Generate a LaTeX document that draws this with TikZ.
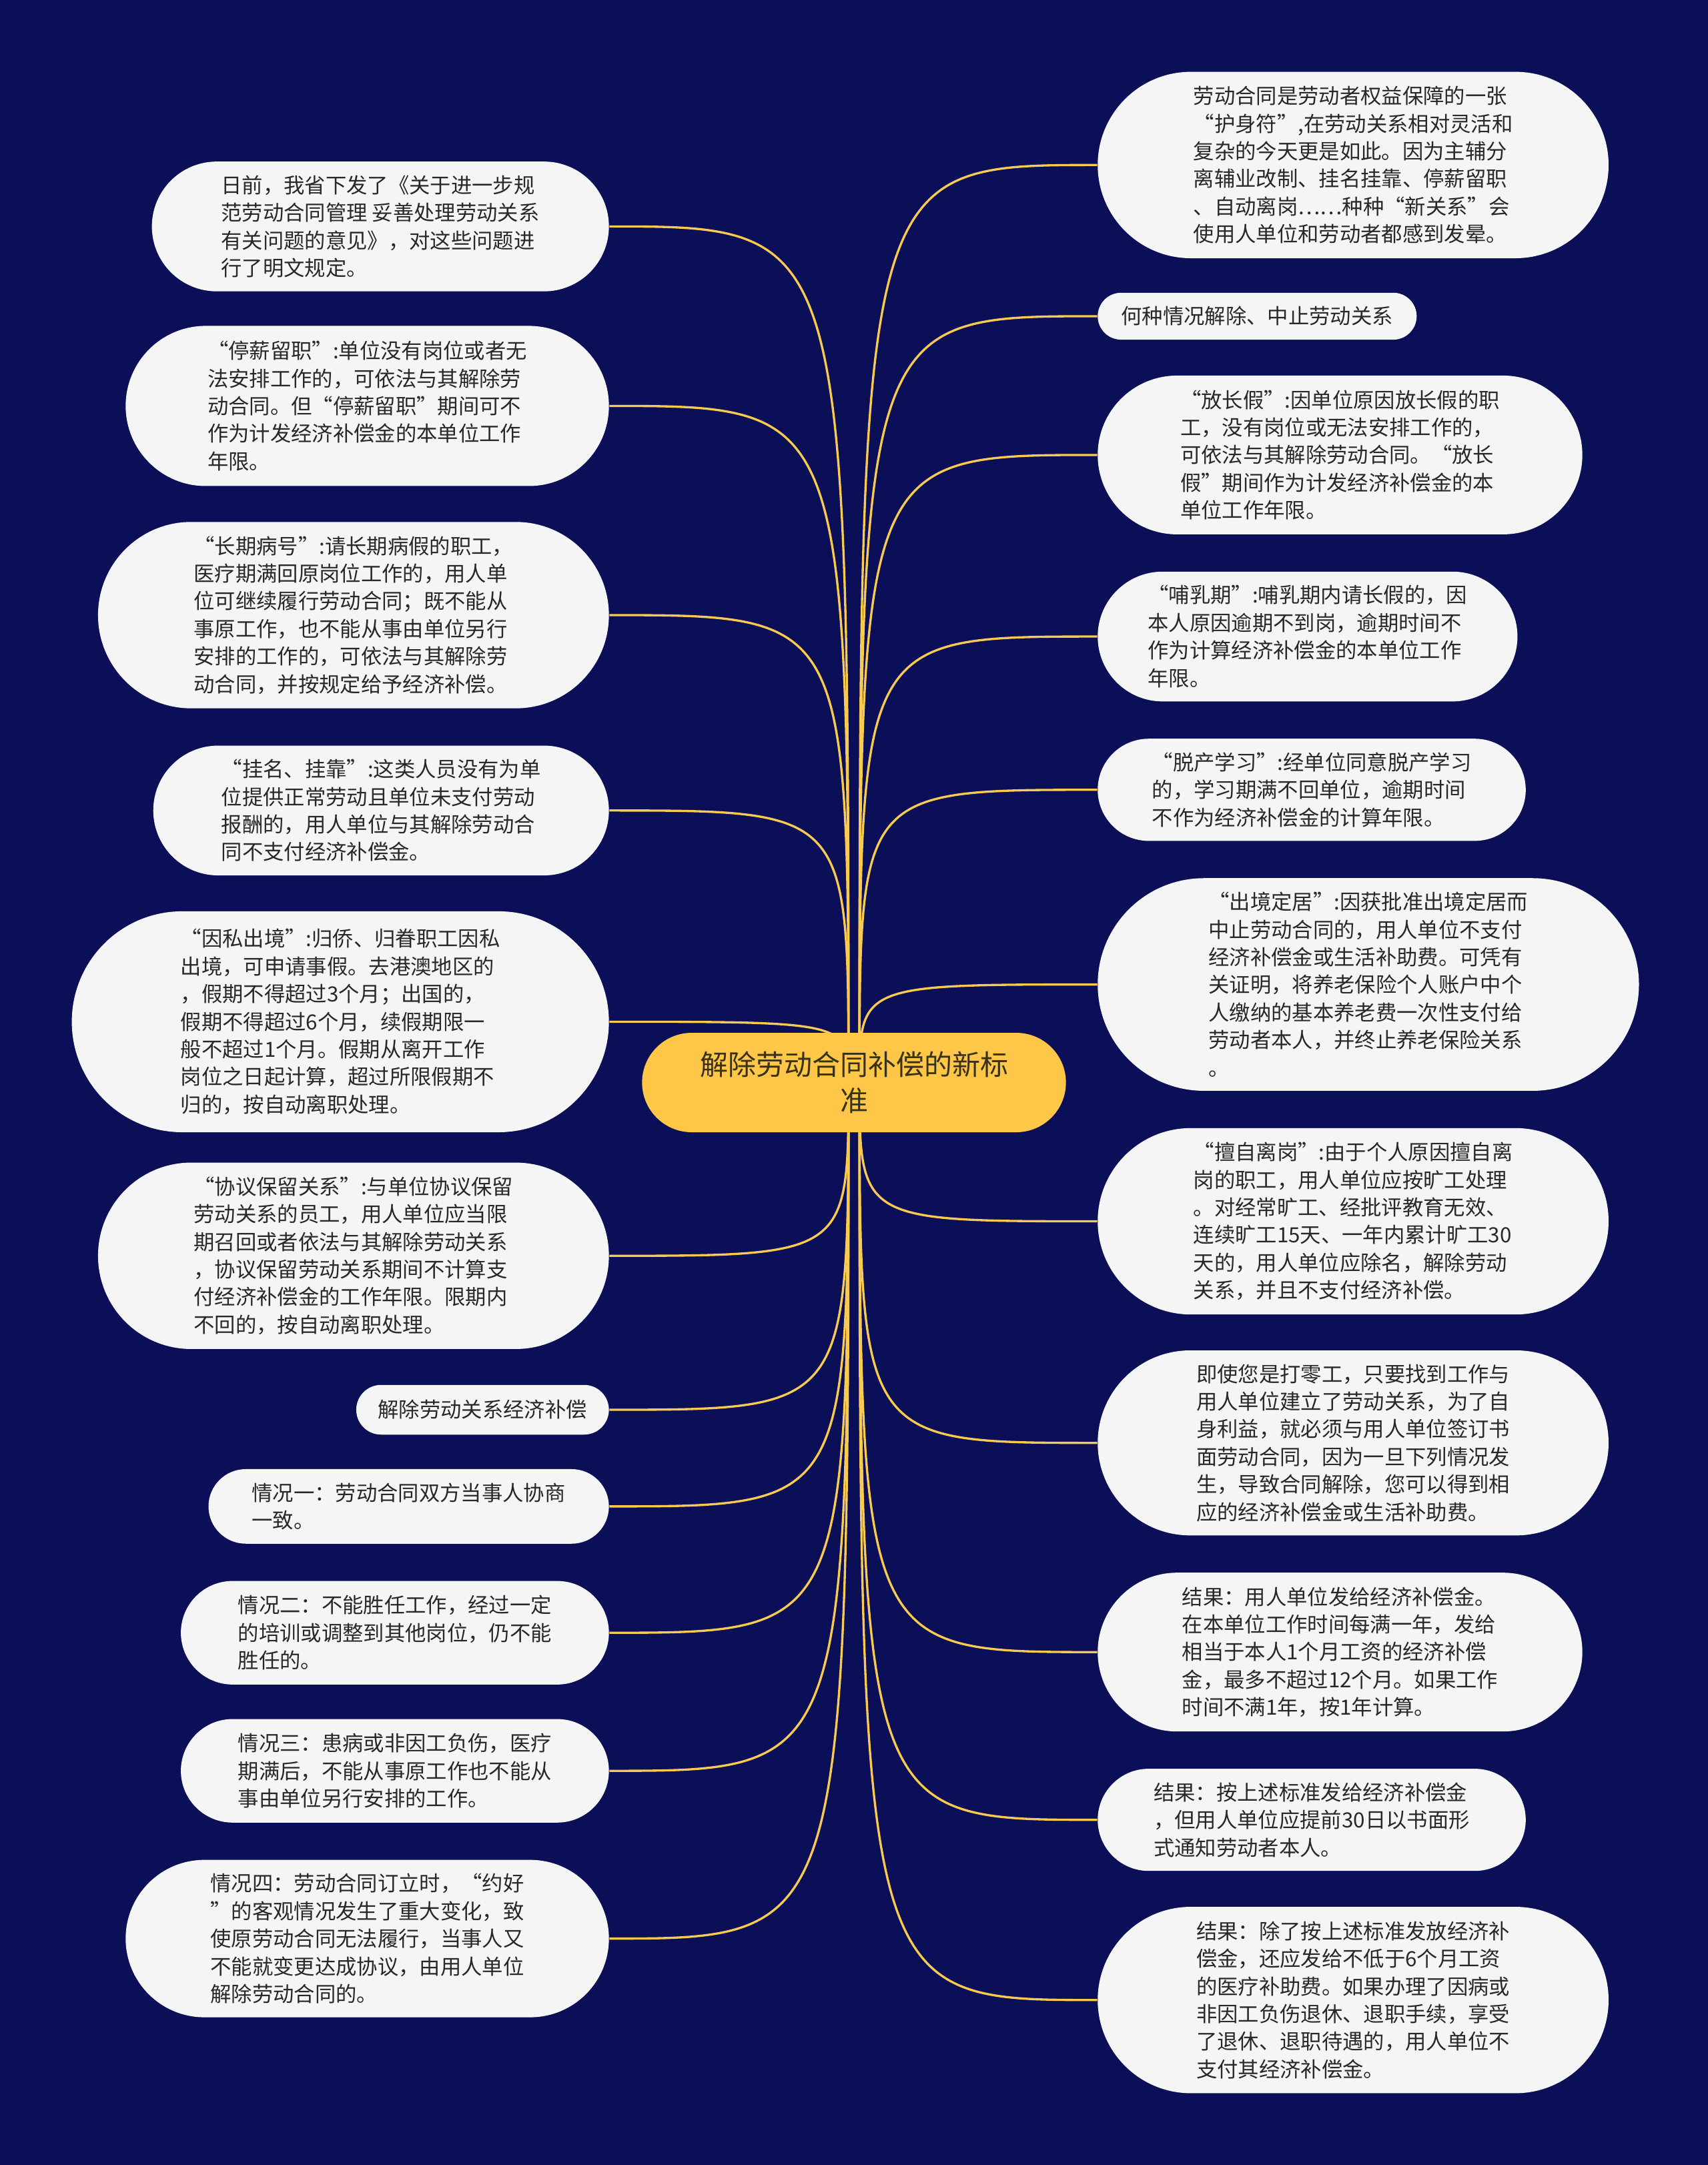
\documentclass[tikz,border=0pt]{standalone}
\usepackage{fontspec}
\setmainfont{Noto Sans CJK SC}
\usetikzlibrary{calc}
\definecolor{bgnavy}{RGB}{11,15,88}
\definecolor{nodefill}{RGB}{245,245,245}
\definecolor{txt}{RGB}{40,40,40}
\definecolor{gold}{RGB}{255,199,71}
\definecolor{linegold}{RGB}{248,202,80}
\definecolor{ctext}{RGB}{55,50,25}
\pgfdeclarelayer{back}
\pgfdeclarelayer{bg}
\pgfsetlayers{back,bg,main}
\begin{document}
\begin{tikzpicture}[x=0.62085pt,y=-0.62085pt,
  box/.style 2 args={draw=none, fill=nodefill, text=txt, align=left, inner sep=0pt,
    minimum width=#1*0.62085pt, minimum height=#2*0.62085pt,
    rounded corners=#2*0.3104pt, font=\fontsize{9.4}{12.42}\selectfont},
  centerbox/.style={draw=none, fill=gold, text=ctext, align=center, inner sep=0pt,
    minimum width=307*0.62085pt, minimum height=72*0.62085pt,
    rounded corners=36*0.62085pt, font=\fontsize{12.6}{16.1}\selectfont},
  conn/.style={draw=linegold, line width=1pt}]
\begin{pgfonlayer}{back}
\fill[bgnavy] (0,0) rectangle (1237,1568);
\end{pgfonlayer}
\useasboundingbox (0,0) rectangle (1237,1568);

\node[centerbox] (c) at (618.5,784) {解除劳动合同补偿的新标\\准};

% left side
\node[box={331}{94}] (L1) at (275.5,164) {日前，我省下发了《关于进一步规\\范劳动合同管理 妥善处理劳动关系\\有关问题的意见》，对这些问题进\\行了明文规定。};
\node[box={350}{116}] (L2) at (266,294) {“停薪留职”:单位没有岗位或者无\\法安排工作的，可依法与其解除劳\\动合同。但“停薪留职”期间可不\\作为计发经济补偿金的本单位工作\\年限。};
\node[box={370}{135}] (L3) at (256,445.5) {“长期病号”:请长期病假的职工，\\医疗期满回原岗位工作的，用人单\\位可继续履行劳动合同；既不能从\\事原工作，也不能从事由单位另行\\安排的工作的，可依法与其解除劳\\动合同，并按规定给予经济补偿。};
\node[box={330}{94}] (L4) at (276,587) {“挂名、挂靠”:这类人员没有为单\\位提供正常劳动且单位未支付劳动\\报酬的，用人单位与其解除劳动合\\同不支付经济补偿金。};
\node[box={389}{160}] (L5) at (246.5,740) {“因私出境”:归侨、归眷职工因私\\出境，可申请事假。去港澳地区的\\，假期不得超过3个月；出国的，\\假期不得超过6个月，续假期限一\\般不超过1个月。假期从离开工作\\岗位之日起计算，超过所限假期不\\归的，按自动离职处理。};
\node[box={370}{135}] (L6) at (256,909.5) {“协议保留关系”:与单位协议保留\\劳动关系的员工，用人单位应当限\\期召回或者依法与其解除劳动关系\\，协议保留劳动关系期间不计算支\\付经济补偿金的工作年限。限期内\\不回的，按自动离职处理。};
\node[box={183}{36}] (L7) at (349.5,1021) {解除劳动关系经济补偿};
\node[box={290}{54}] (L8) at (296,1091) {情况一：劳动合同双方当事人协商\\一致。};
\node[box={310}{75}] (L9) at (286,1182.5) {情况二：不能胜任工作，经过一定\\的培训或调整到其他岗位，仍不能\\胜任的。};
\node[box={310}{75}] (L10) at (286,1282.5) {情况三：患病或非因工负伤，医疗\\期满后，不能从事原工作也不能从\\事由单位另行安排的工作。};
\node[box={350}{114}] (L11) at (266,1404) {情况四：劳动合同订立时，“约好\\”的客观情况发生了重大变化，致\\使原劳动合同无法履行，当事人又\\不能就变更达成协议，由用人单位\\解除劳动合同的。};

% right side
\node[box={370}{135}] (R1) at (980,119.5) {劳动合同是劳动者权益保障的一张\\“护身符”,在劳动关系相对灵活和\\复杂的今天更是如此。因为主辅分\\离辅业改制、挂名挂靠、停薪留职\\、自动离岗……种种“新关系”会\\使用人单位和劳动者都感到发晕。};
\node[box={231}{34}] (R2) at (910.5,229) {何种情况解除、中止劳动关系};
\node[box={351}{115}] (R3) at (970.5,329.5) {“放长假”:因单位原因放长假的职\\工，没有岗位或无法安排工作的，\\可依法与其解除劳动合同。“放长\\假”期间作为计发经济补偿金的本\\单位工作年限。};
\node[box={304}{94}] (R4) at (947,461) {“哺乳期”:哺乳期内请长假的，因\\本人原因逾期不到岗，逾期时间不\\作为计算经济补偿金的本单位工作\\年限。};
\node[box={310}{74}] (R5) at (950,572) {“脱产学习”:经单位同意脱产学习\\的，学习期满不回单位，逾期时间\\不作为经济补偿金的计算年限。};
\node[box={392}{154}] (R6) at (991,713) {“出境定居”:因获批准出境定居而\\中止劳动合同的，用人单位不支付\\经济补偿金或生活补助费。可凭有\\关证明，将养老保险个人账户中个\\人缴纳的基本养老费一次性支付给\\劳动者本人，并终止养老保险关系\\。};
\node[box={370}{135}] (R7) at (980,884.5) {“擅自离岗”:由于个人原因擅自离\\岗的职工，用人单位应按旷工处理\\。对经常旷工、经批评教育无效、\\连续旷工15天、一年内累计旷工30\\天的，用人单位应除名，解除劳动\\关系，并且不支付经济补偿。};
\node[box={370}{134}] (R8) at (980,1045) {即使您是打零工，只要找到工作与\\用人单位建立了劳动关系，为了自\\身利益，就必须与用人单位签订书\\面劳动合同，因为一旦下列情况发\\生，导致合同解除，您可以得到相\\应的经济补偿金或生活补助费。};
\node[box={351}{115}] (R9) at (970.5,1196.5) {结果：用人单位发给经济补偿金。\\在本单位工作时间每满一年，发给\\相当于本人1个月工资的经济补偿\\金，最多不超过12个月。如果工作\\时间不满1年，按1年计算。};
\node[box={310}{74}] (R10) at (950,1318) {结果：按上述标准发给经济补偿金\\，但用人单位应提前30日以书面形\\式通知劳动者本人。};
\node[box={370}{135}] (R11) at (980,1448.5) {结果：除了按上述标准发放经济补\\偿金，还应发给不低于6个月工资\\的医疗补助费。如果办理了因病或\\非因工负伤退休、退职手续，享受\\了退休、退职待遇的，用人单位不\\支付其经济补偿金。};

\coordinate (cl) at ($(c.center)+(-4,0)$);
\coordinate (cr) at ($(c.center)+(4,0)$);
\begin{pgfonlayer}{bg}
\foreach \n in {L1,L2,L3,L4,L5,L6,L7,L8,L9,L10,L11}
  \draw[conn] (cl) .. controls (cl |- \n.east) .. (\n.east);
\foreach \n in {R1,R2,R3,R4,R5,R6,R7,R8,R9,R10,R11}
  \draw[conn] (cr) .. controls (cr |- \n.west) .. (\n.west);
\end{pgfonlayer}
\end{tikzpicture}
\end{document}
